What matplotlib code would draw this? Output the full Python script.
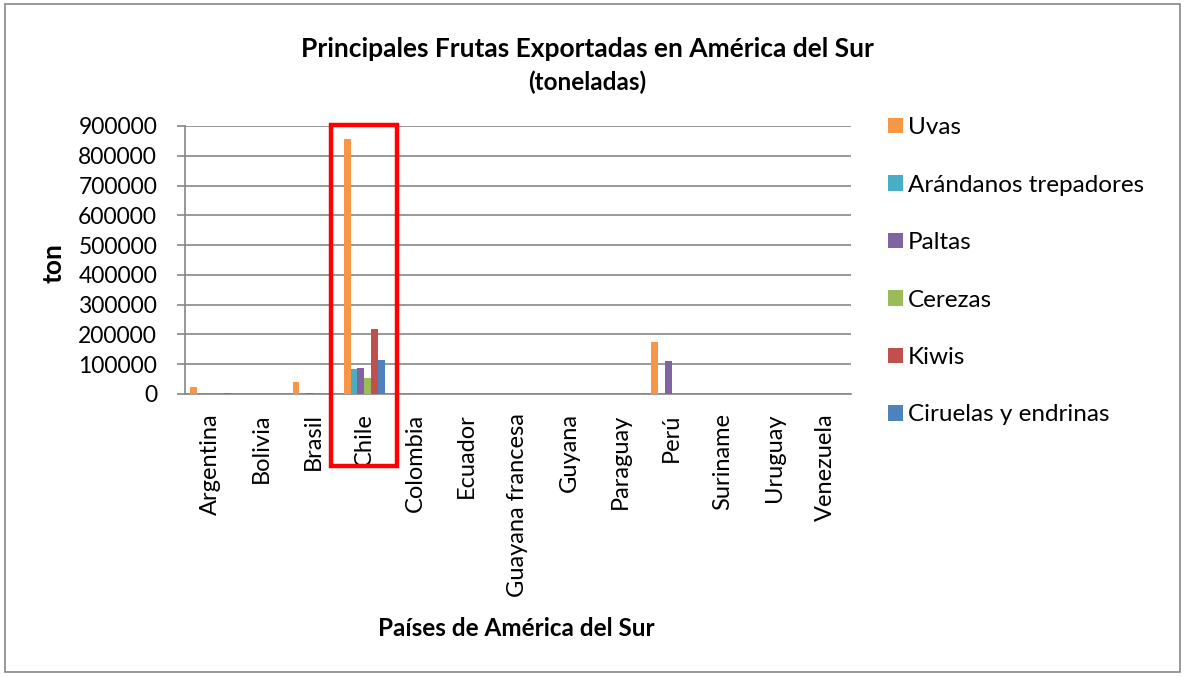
import matplotlib
matplotlib.use("Agg")
import matplotlib.pyplot as plt
from matplotlib.patches import Rectangle, Patch
import numpy as np

plt.rcParams['font.family'] = ['Lato', 'DejaVu Sans']

countries = ["Argentina", "Bolivia", "Brasil", "Chile", "Colombia", "Ecuador",
             "Guayana francesa", "Guyana", "Paraguay", "Perú", "Suriname",
             "Uruguay", "Venezuela"]

series = ["Uvas", "Arándanos trepadores", "Paltas", "Cerezas", "Kiwis",
          "Ciruelas y endrinas"]
colors = ["#F79646", "#4BACC6", "#8064A2", "#9BBB59", "#C0504D", "#4F81BD"]

uvas = [22000, 0, 41000, 856000, 0, 0, 0, 0, 0, 173000, 0, 0, 0]
arandanos = [0, 0, 0, 84000, 0, 0, 0, 0, 0, 0, 0, 0, 0]
paltas = [0, 0, 3000, 88000, 0, 0, 0, 0, 0, 112000, 0, 0, 0]
cerezas = [0, 0, 0, 54000, 0, 0, 0, 0, 0, 0, 0, 0, 0]
kiwis = [0, 0, 0, 217000, 0, 0, 0, 0, 0, 0, 0, 0, 0]
ciruelas = [5000, 0, 0, 114000, 0, 0, 0, 0, 0, 0, 0, 0, 0]

values = [uvas, arandanos, paltas, cerezas, kiwis, ciruelas]

fig = plt.figure(figsize=(11.84, 6.76), dpi=100)
ax = fig.add_axes([185 / 1184, 282 / 676, 666 / 1184, 268 / 676])

x = np.arange(len(countries))
w = 1 / 7.5
for i, (vals, col) in enumerate(zip(values, colors)):
    ax.bar(x + (i - 2.5) * w, vals, width=w, color=col, zorder=3)

ax.set_xlim(-0.5, len(countries) - 0.5)
ax.set_ylim(0, 900000)
ax.set_yticks(np.arange(0, 900001, 100000))
ax.set_yticklabels([str(v) for v in range(0, 900001, 100000)], fontsize=16.5)
ax.set_xticks(x)
ax.set_xticklabels(countries, rotation=90, fontsize=17)
ax.tick_params(axis='x', length=0, pad=14)
ax.tick_params(axis='y', length=6, width=1.2, color='#868686', pad=14)

ax.grid(axis='y', color='#868686', linewidth=1.2, zorder=0)
for s in ['top', 'right']:
    ax.spines[s].set_visible(False)
for s in ['left', 'bottom']:
    ax.spines[s].set_color('#868686')
    ax.spines[s].set_linewidth(1.2)

# axis titles
fig.text(53 / 1184, 1 - 263 / 676, "ton", fontsize=19, fontweight='bold',
         rotation=90, ha='center', va='center')
fig.text(516 / 1184, 1 - 629 / 676, "Países de América del Sur", fontsize=17.5,
         fontweight='bold', ha='center', va='center')

# chart title
fig.text(587 / 1184, 1 - 49 / 676, "Principales Frutas Exportadas en América del Sur",
         fontsize=19, fontweight='bold', ha='center', va='center')
fig.text(587 / 1184, 1 - 82 / 676, "(toneladas)", fontsize=17.5, fontweight='bold',
         ha='center', va='center')

handles = [Patch(facecolor=c, edgecolor='none') for c in colors]
fig.legend(handles, series, loc='upper left', bbox_to_anchor=(876 / 1184, 1 - 105 / 676),
           frameon=False, fontsize=17.5, labelspacing=1.5, handlelength=0.6,
           handleheight=0.6, handletextpad=0.2, borderpad=0)

# red highlight around Chile
fig.patches.append(Rectangle((331 / 1184, 1 - 466 / 676), 66 / 1184, 341 / 676,
                             transform=fig.transFigure, fill=False,
                             edgecolor='#FF0000', linewidth=3.2, zorder=10))

# chart border
fig.patches.append(Rectangle((5 / 1184, 4 / 676), 1175 / 1184, 668 / 676,
                             transform=fig.transFigure, fill=False,
                             edgecolor='#868686', linewidth=1.2))

fig.savefig("out.png", dpi=100)
